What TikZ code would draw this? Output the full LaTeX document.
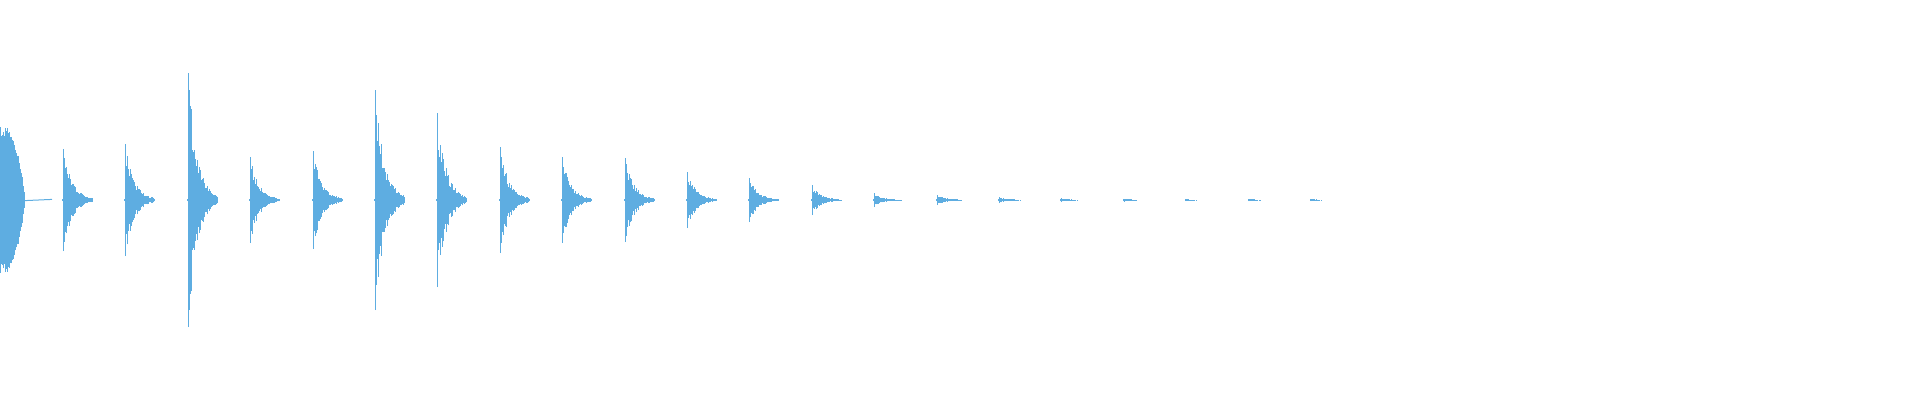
\documentclass[tikz,border=0pt]{standalone}
\definecolor{wave}{RGB}{94,173,225}
\begin{document}
\begin{tikzpicture}[x=1pt,y=1pt]
\tikzstyle{bar}=[draw=wave, line width=1pt]
\useasboundingbox (0,0) rectangle (1920,400);
\pgfmathsetseed{7}

% first burst, slow decay
\foreach \k in {0,...,24} {
  \pgfmathsetmacro{\h}{74*(1-(\k/25)^3)*(0.85+0.15*rnd)}
  \draw[bar] (\k+0.5,200-\h) -- (\k+0.5,200+\h);
}
\draw[bar] (25,199.4) -- (52,200.6);

% remaining bursts
\foreach \a [count=\i] in {51,56,127,43,49,110,87,53,43,42,28,22,15,7,5,3,2,1.5,1,1,1} {
  \pgfmathsetmacro{\xo}{\i*62.4}
  \draw[bar] (\xo,199) -- (\xo,201);
  \draw[bar] (\xo+1,200-\a) -- (\xo+1,200+\a);
  \foreach \k in {2,...,30} {
    \pgfmathsetmacro{\h}{\a*exp(-(\k-1)/9)*(0.6+0.4*rnd)}
    \pgfmathparse{\h>0.25 ? 1 : 0}
    \ifnum\pgfmathresult=1
      \draw[bar] (\xo+\k,200-\h) -- (\xo+\k,200+\h);
    \fi
  }
}
\end{tikzpicture}
\end{document}
